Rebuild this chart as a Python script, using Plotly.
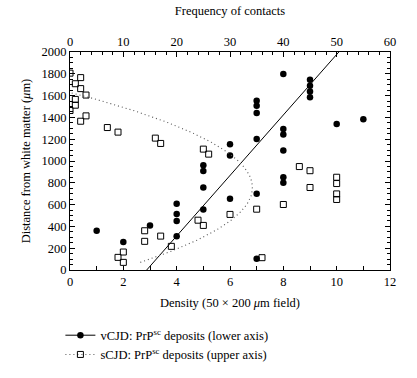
import numpy as np
import plotly.graph_objects as go

# vCJD: PrPsc deposits (lower axis: density per 50x200 um field)
vcjd_density = [1, 2, 3, 4, 4, 4, 4, 5, 5, 5, 5, 6, 6, 6,
                7, 7, 7, 7, 7, 7, 8, 8, 8, 8, 8, 8, 9, 9, 9, 9, 10, 11]
vcjd_distance = [360, 256, 409, 607, 513, 449, 310, 961, 909, 757, 556, 1153, 1050, 653,
                 1553, 1508, 1440, 1202, 699, 104, 1799, 1293, 1242, 1096, 851, 801,
                 1745, 1690, 1638, 1586, 1339, 1382]

# sCJD: PrPsc deposits (upper axis: frequency of contacts)
scjd_frequency = [0, 2, 1, 2, 3, 1, 1, 0, 3, 2, 7, 9, 16, 17, 25, 26,
                  30, 24, 25, 35, 36, 40, 9, 10, 10, 14, 14, 17, 19,
                  43, 45, 45, 50, 50, 50, 50]
scjd_distance = [1806, 1765, 1709, 1664, 1605, 1565, 1512, 1463, 1414, 1365, 1307, 1265, 1210, 1161, 1109, 1063,
                 510, 457, 409, 558, 113, 601, 116, 165, 70, 360, 263, 311, 217,
                 949, 911, 757, 851, 793, 698, 647]

x_ticks_bottom = [0, 2, 4, 6, 8, 10, 12]
x_ticks_top = [0, 10, 20, 30, 40, 50, 60]
y_ticks = list(range(0, 2001, 200))

# regression of density on distance (vCJD)
b1, a1 = np.polyfit(vcjd_distance, vcjd_density, 1)
fit_d = np.linspace(0, 2000, 50)
fit_x = a1 + b1 * fit_d

# quadratic regression of frequency on distance (sCJD)
q = np.polyfit(scjd_distance, scjd_frequency, 2)
qd = np.linspace(min(scjd_distance), max(scjd_distance), 200)
qf = np.polyval(q, qd)

FONT = "Liberation Serif"
DOT = dict(color="#555", width=1.1, dash="1px,3px")
fig = go.Figure()

fig.add_trace(go.Scatter(x=fit_x, y=fit_d, mode="lines", line=dict(color="black", width=1),
                         showlegend=False, hoverinfo="skip"))
fig.add_trace(go.Scatter(x=vcjd_density, y=vcjd_distance, mode="markers",
                         marker=dict(symbol="circle", size=6.5, color="black"),
                         showlegend=False))
fig.add_trace(go.Scatter(x=qf, y=qd, xaxis="x2", mode="lines", line=DOT,
                         showlegend=False, hoverinfo="skip"))
fig.add_trace(go.Scatter(x=scjd_frequency, y=scjd_distance, xaxis="x2", mode="markers",
                         marker=dict(symbol="square-open", size=6, color="black", line=dict(width=1)),
                         showlegend=False))

# legend entries
fig.add_trace(go.Scatter(x=[None], y=[None], mode="lines+markers",
                         line=dict(color="black", width=1),
                         marker=dict(symbol="circle", size=6.5, color="black"),
                         name="vCJD: PrP<sup>sc</sup> deposits (lower axis)"))
fig.add_trace(go.Scatter(x=[None], y=[None], xaxis="x2", mode="lines+markers", line=DOT,
                         marker=dict(symbol="square-open", size=6, color="black", line=dict(width=1)),
                         name="sCJD: PrP<sup>sc</sup> deposits (upper axis)"))

axis_common = dict(showgrid=False, zeroline=False, showline=True, linecolor="black", linewidth=1,
                   ticks="inside", tickcolor="black", tickwidth=1, automargin=False,
                   tickfont=dict(family=FONT, size=12.5, color="black"))

fig.update_layout(
    width=417, height=378,
    margin=dict(l=69.5, r=27, t=51.5, b=108, autoexpand=False),
    paper_bgcolor="white", plot_bgcolor="white",
    font=dict(family=FONT, size=12.5, color="black"),
    xaxis=dict(range=[0, 12], tickvals=x_ticks_bottom, ticklen=4,
               minor=dict(dtick=1, ticklen=4, ticks="inside", tickcolor="black"),
               title=dict(text="Density (50 × 200 <i>μ</i>m field)", font=dict(family=FONT, size=12.5), standoff=10),
               **axis_common),
    xaxis2=dict(range=[0, 60], tickvals=x_ticks_top, overlaying="x", side="top", anchor="y", ticklen=5,
                minor=dict(dtick=2, ticklen=3, ticks="inside", tickcolor="black"),
                title=dict(text="Frequency of contacts", font=dict(family=FONT, size=12.5), standoff=16),
                **axis_common),
    yaxis=dict(range=[0, 2000], tickvals=y_ticks, ticklen=5, mirror="ticks",
               minor=dict(dtick=50, ticklen=3, ticks="inside", tickcolor="black"),
               title=dict(text="Distance from white matter (<i>μ</i>m)", font=dict(family=FONT, size=12.5), standoff=8),
               **axis_common),
    legend=dict(x=-0.03, y=-0.232, xanchor="left", yanchor="top",
                font=dict(family=FONT, size=12.5, color="black"),
                bgcolor="rgba(0,0,0,0)", tracegroupgap=0, itemwidth=30),
)

fig.write_html("out.html", config={"displayModeBar": False},
               post_script="document.body.style.margin='0';")
